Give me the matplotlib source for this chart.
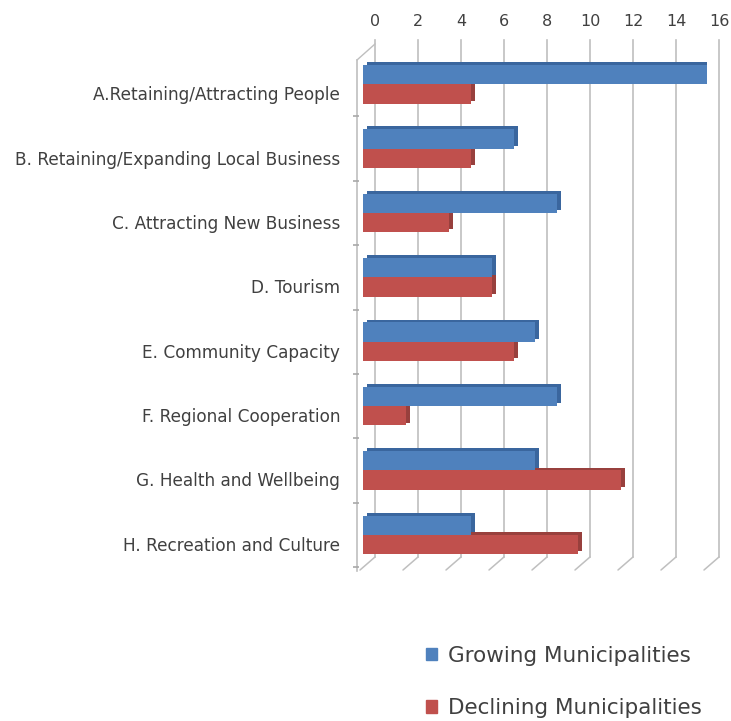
import matplotlib
matplotlib.use("Agg")
import matplotlib.pyplot as plt
import matplotlib.transforms as mtransforms
import matplotlib.patheffects as pe
import matplotlib.patches as mpatches
import numpy as np

categories = [
    "A.Retaining/Attracting People",
    "B. Retaining/Expanding Local Business",
    "C. Attracting New Business",
    "D. Tourism",
    "E. Community Capacity",
    "F. Regional Cooperation",
    "G. Health and Wellbeing",
    "H. Recreation and Culture",
]
growing = [16, 7, 9, 6, 8, 9, 8, 5]
declining = [5, 5, 4, 6, 7, 2, 12, 10]
xticks = [0, 2, 4, 6, 8, 10, 12, 14, 16]
series_names = ["Growing Municipalities", "Declining Municipalities"]

BLUE = "#4F81BD"
BLUE_D = "#3A669E"
RED = "#C0504D"
RED_D = "#98403D"
GRID = "#BFBFBF"
TXT = "#404040"
FONT = "DejaVu Sans"

W, H = 731, 721
fig = plt.figure(figsize=(W / 100, H / 100), dpi=100)

x0, x1 = 363, 707
ytop, ybot = 52, 567
ax = fig.add_axes([x0 / W, 1 - ybot / H, (x1 - x0) / W, (ybot - ytop) / H])
ax.set_xlim(0, 16)
ax.set_ylim(len(categories) - 0.5, -0.5)
for s in ax.spines.values():
    s.set_visible(False)
ax.set_xticks([])
ax.set_yticks([])
ax.patch.set_alpha(0)


def off(dx, dy):
    return mtransforms.ScaledTranslation(dx / 100, -dy / 100, fig.dpi_scale_trans)


blend = mtransforms.blended_transform_factory(ax.transData, ax.transAxes)
axh = ybot - ytop


def ay(py):
    # pixel row -> axes fraction
    return (ybot - py) / axh


bdx = 12   # depth offset of the back wall
fdx = -3   # front edge of the floor

for t in xticks:
    ax.plot([t, t], [ay(557), ay(40)], color=GRID, lw=1.2,
            transform=blend + off(bdx, 0), clip_on=False, zorder=0)
    ax.annotate("", xy=(t, ay(557)), xycoords=blend + off(bdx, 0),
                xytext=(t, ay(570)), textcoords=blend + off(fdx, 0),
                arrowprops=dict(arrowstyle="-", color=GRID, lw=1.1, shrinkA=0, shrinkB=0),
                annotation_clip=False, zorder=0)
    ax.text(t, ay(21), str(t), transform=blend + off(bdx, 0),
            ha="center", va="center", fontsize=11.5, color=TXT, family=FONT)

# left wall
ax.plot([0, 0], [ay(571), ay(60)], color=GRID, lw=1.2,
        transform=blend + off(-6, 0), clip_on=False, zorder=0)
ax.annotate("", xy=(0, ay(44)), xycoords=blend + off(bdx, 0),
            xytext=(0, ay(60)), textcoords=blend + off(-6, 0),
            arrowprops=dict(arrowstyle="-", color=GRID, lw=1.0, shrinkA=0, shrinkB=0),
            annotation_clip=False, zorder=0)
for i in range(1, len(categories) + 1):
    ax.plot([0], [i - 0.5], marker="_", ms=4, mew=1.2, color="#A8A8A8",
            transform=ax.transData + off(-7, 0), clip_on=False)

# bars
y = np.arange(len(categories))
h = 0.3
shadow_b = [pe.SimplePatchShadow(offset=(3.2, 2.0), shadow_rgbFace=BLUE_D, alpha=1.0), pe.Normal()]
shadow_r = [pe.SimplePatchShadow(offset=(3.2, 2.0), shadow_rgbFace=RED_D, alpha=1.0), pe.Normal()]
b2 = ax.barh(y + h / 2, declining, height=h, color=RED, zorder=2)
for p in b2:
    p.set_path_effects(shadow_r)
b1 = ax.barh(y - h / 2, growing, height=h, color=BLUE, zorder=3)
for p in b1:
    p.set_path_effects(shadow_b)

# category labels
for i, c in enumerate(categories):
    ax.text(0, i, c, transform=ax.transData + off(-23, 11), ha="right", va="center",
            fontsize=12.2, color=TXT, family=FONT)

# legend
handles = [mpatches.Patch(color=BLUE), mpatches.Patch(color=RED)]
fig.legend(handles=handles, labels=series_names, loc="center left",
           bbox_to_anchor=(407 / W, 1 - 682 / H), frameon=False,
           prop={"family": FONT, "size": 15.5}, labelcolor=TXT,
           handlelength=0.5, handleheight=0.5, handletextpad=0.5,
           labelspacing=1.5)

fig.savefig("out.png", dpi=100, facecolor="white")
